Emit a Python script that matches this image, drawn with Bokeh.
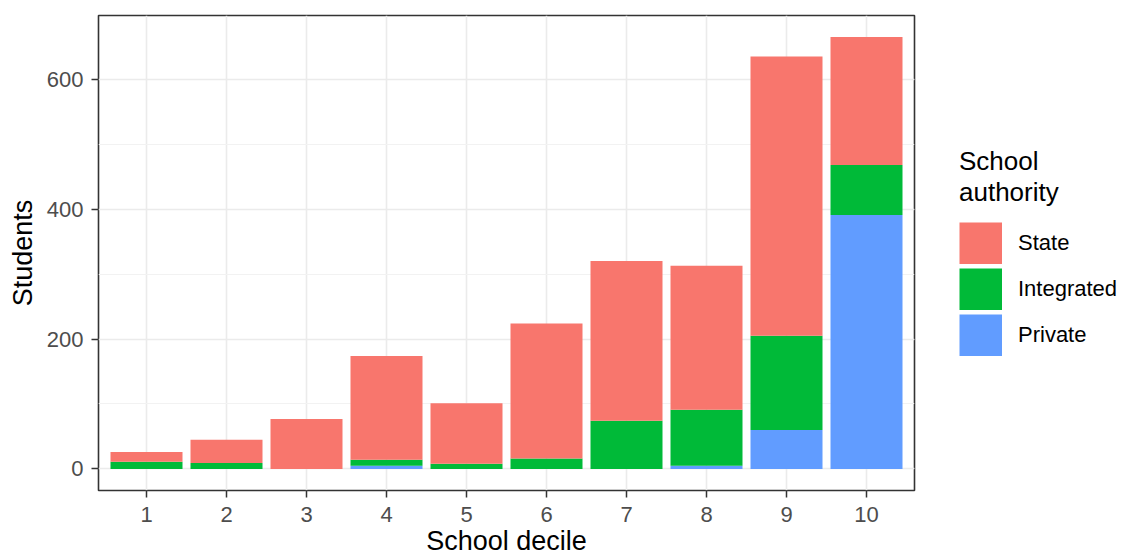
from bokeh.plotting import figure
from bokeh.layouts import row
from bokeh.models import (Range1d, FixedTicker, SingleIntervalTicker, Legend,
                          LegendItem, ColumnDataSource)
from bokeh.embed import file_html
from bokeh.resources import INLINE

# ---- data ----
deciles = [1, 2, 3, 4, 5, 6, 7, 8, 9, 10]
tick_labels = ["1", "2", "3", "4", "5", "6", "7", "8", "9", "10"]
state = [15, 36, 77, 160, 93, 208, 246, 222, 430, 197]
integrated = [11, 9, 0, 9, 8, 16, 74, 86, 145, 77]
private = [0, 0, 0, 5, 0, 0, 0, 5, 60, 391]
series_names = ["State", "Integrated", "Private"]
series_colors = {"State": "#F8766D", "Integrated": "#00BA38", "Private": "#619CFF"}

FONT = "Liberation Sans"

src = ColumnDataSource(dict(decile=deciles, Private=private,
                            Integrated=integrated, State=state))

p = figure(width=916, height=558, output_backend="svg", toolbar_location=None,
           x_range=Range1d(0.4, 10.6), y_range=Range1d(-33.25, 698.25),
           min_border_left=98, min_border_right=2, min_border_top=15,
           min_border_bottom=67)
p.background_fill_color = "white"
p.border_fill_color = "white"
p.outline_line_color = "#333333"
p.outline_line_width = 1.6

stack_order = ["Private", "Integrated", "State"]
p.vbar_stack(stack_order, x="decile", width=0.9, source=src,
             color=[series_colors[s] for s in stack_order], line_color=None)

# axes
xa = p.xaxis[0]
xa.ticker = FixedTicker(ticks=deciles)
xa.major_label_overrides = {d: t for d, t in zip(deciles, tick_labels)}
ya = p.yaxis[0]
ya.ticker = SingleIntervalTicker(interval=200, num_minor_ticks=2)
for ax in (xa, ya):
    ax.axis_line_color = None
    ax.major_tick_line_color = "#333333"
    ax.major_tick_line_width = 1.5
    ax.major_tick_out = 7
    ax.major_tick_in = 0
    ax.minor_tick_line_color = None
    ax.major_label_text_font = FONT
    ax.major_label_text_font_size = "22px"
    ax.major_label_text_color = "#4D4D4D"
    ax.axis_label_text_font = FONT
    ax.axis_label_text_font_size = "27px"
    ax.axis_label_text_font_style = "normal"
    ax.axis_label_text_color = "black"
xa.axis_label = "School decile"
ya.axis_label = "Students"
xa.major_label_standoff = 9
ya.major_label_standoff = 8
xa.axis_label_standoff = 1
ya.axis_label_standoff = 6

# grids
p.xgrid.ticker = FixedTicker(ticks=deciles)
p.xgrid.grid_line_color = "#EBEBEB"
p.xgrid.grid_line_width = 1.6
p.ygrid.grid_line_color = "#EBEBEB"
p.ygrid.grid_line_width = 1.6
p.ygrid.minor_grid_line_color = "#F2F2F2"
p.ygrid.minor_grid_line_width = 1.0

# legend panel (separate canvas to the right of the plot)
lg = figure(width=205, height=558, output_backend="svg", toolbar_location=None,
            x_range=Range1d(0, 1), y_range=Range1d(0, 1),
            x_axis_type=None, y_axis_type=None, min_border=0)
lg.outline_line_color = None
lg.grid.visible = False
# legend-key proxies: a single point each, which draws no visible line
proxies = {n: lg.line(x=[-5], y=[-5], line_color=series_colors[n], line_width=42)
           for n in series_names}
items = [LegendItem(label=n, renderers=[proxies[n]]) for n in series_names]
legend = Legend(items=items, location=(43, 134), padding=0, margin=0,
                title="School\nauthority", title_text_font=FONT,
                title_text_font_size="26px", title_text_font_style="normal",
                title_text_color="black", title_text_line_height=1.0,
                title_standoff=14,
                glyph_width=43, glyph_height=42, spacing=4, label_standoff=16,
                label_text_font=FONT, label_text_font_size="22px",
                label_text_color="black", border_line_color=None,
                background_fill_alpha=0)
lg.add_layout(legend, "center")

layout = row(p, lg, spacing=0)
open("out.html", "w").write(file_html(layout, INLINE))
